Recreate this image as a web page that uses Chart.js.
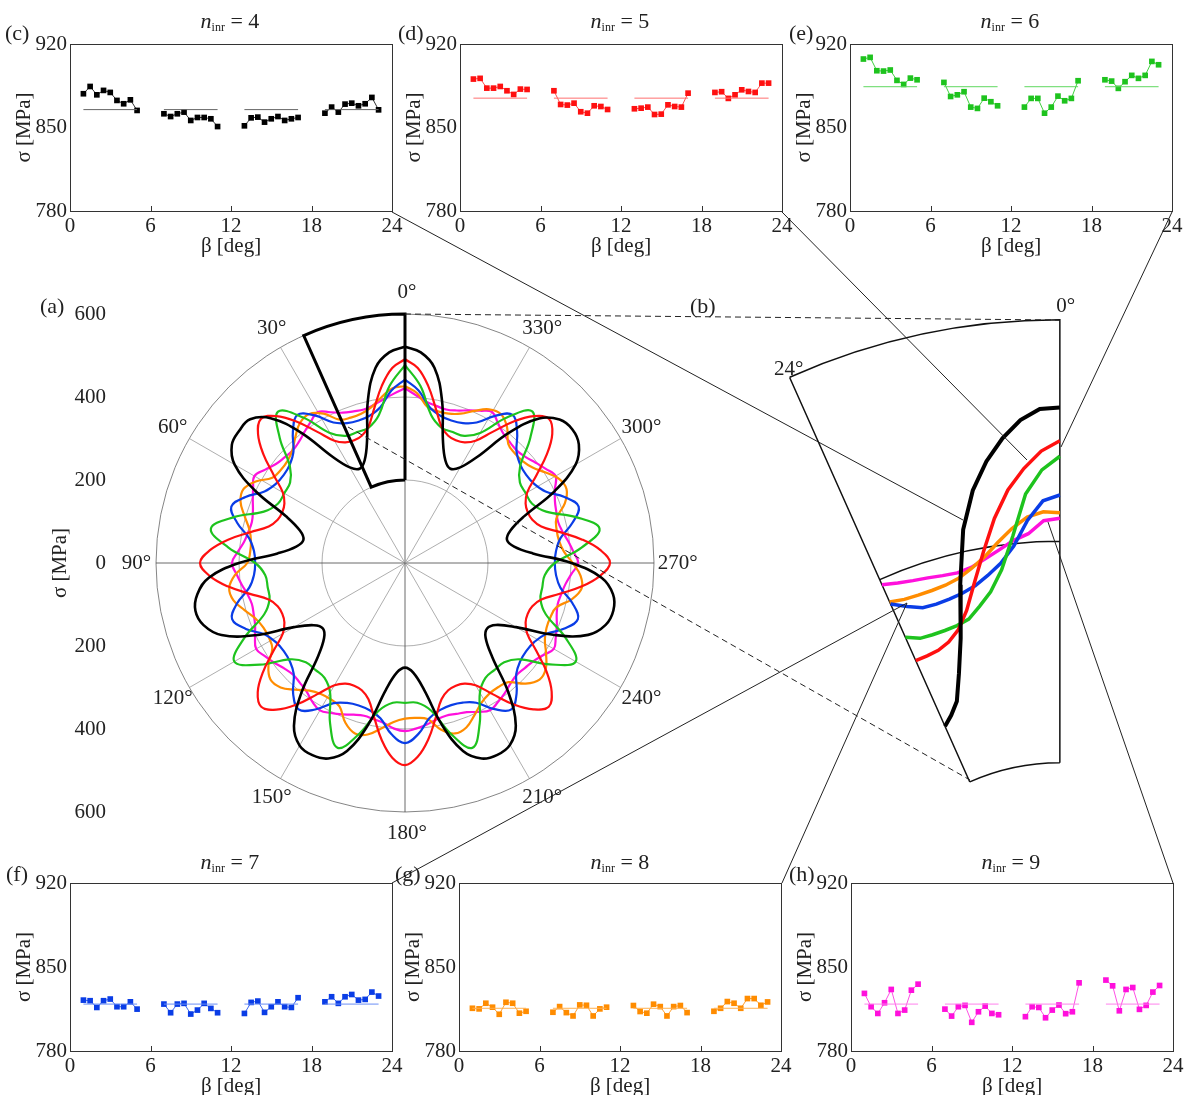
<!DOCTYPE html>
<html>
<head>
<meta charset="utf-8">
<script src="https://cdn.jsdelivr.net/npm/chart.js@4.4.1/dist/chart.umd.min.js"></script>
<style>
  html, body { margin: 0; padding: 0; background: #fff; overflow: hidden; }
  body { width: 1186px; height: 1095px; position: relative; font-family: "Liberation Serif", "Times New Roman", serif; color: #222; }
  canvas { position: absolute; }
  .lbl { position: absolute; font-size: 22px; line-height: 1; white-space: nowrap; }
  .ttl { position: absolute; font-size: 22px; line-height: 1; white-space: nowrap; transform: translateX(-50%); }
  .ttl sub { font-size: 12px; vertical-align: -3px; }
  svg { position: absolute; left: 0; top: 0; pointer-events: none; }
</style>
</head>
<body>
<canvas id="polarA" width="656" height="575" style="left:44px;top:280px"></canvas>
<canvas id="zoomB" width="330" height="510" style="left:760px;top:290px"></canvas>
<canvas id="pc" width="406" height="231" style="left:0px;top:30px"></canvas>
<canvas id="pd" width="406" height="231" style="left:390px;top:30px"></canvas>
<canvas id="pe" width="406" height="231" style="left:780px;top:30px"></canvas>
<canvas id="pf" width="406" height="232" style="left:0px;top:869px"></canvas>
<canvas id="pg" width="406" height="232" style="left:389px;top:869px"></canvas>
<canvas id="ph" width="406" height="232" style="left:781px;top:869px"></canvas>

<div class="lbl" style="left:5px;top:22px">(c)</div>
<div class="lbl" style="left:398px;top:22px">(d)</div>
<div class="lbl" style="left:789px;top:22px">(e)</div>
<div class="lbl" style="left:6px;top:863px">(f)</div>
<div class="lbl" style="left:395px;top:863px">(g)</div>
<div class="lbl" style="left:789px;top:863px">(h)</div>
<div class="lbl" style="left:40px;top:295px">(a)</div>
<div class="lbl" style="left:690px;top:295px">(b)</div>

<div class="ttl" style="left:230px;top:10px"><i>n</i><sub>inr</sub> = 4</div>
<div class="ttl" style="left:620px;top:10px"><i>n</i><sub>inr</sub> = 5</div>
<div class="ttl" style="left:1010px;top:10px"><i>n</i><sub>inr</sub> = 6</div>
<div class="ttl" style="left:230px;top:851px"><i>n</i><sub>inr</sub> = 7</div>
<div class="ttl" style="left:620px;top:851px"><i>n</i><sub>inr</sub> = 8</div>
<div class="ttl" style="left:1011px;top:851px"><i>n</i><sub>inr</sub> = 9</div>

<svg width="1186" height="1095">
  <g stroke="#222" stroke-width="1" fill="none">
    <line x1="405" y1="314" x2="1060" y2="320" stroke-dasharray="6 4"/>
    <line x1="348" y1="427" x2="970" y2="780" stroke-dasharray="6 4"/>
    <line x1="392" y1="212" x2="963" y2="520"/>
    <line x1="782" y1="212" x2="1027" y2="460"/>
    <line x1="1172" y1="212" x2="1061" y2="447"/>
    <line x1="392" y1="883" x2="907" y2="603"/>
    <line x1="782" y1="883" x2="907" y2="603"/>
    <line x1="1173" y1="883" x2="1048" y2="522"/>
  </g>
</svg>

<script>
// ---- small panels (c)-(h): stress along beta ----
var beta = [1, 1.5, 2, 2.5, 3, 3.5, 4, 4.5, 5,
  7, 7.5, 8, 8.5, 9, 9.5, 10, 10.5, 11,
  13, 13.5, 14, 14.5, 15, 15.5, 16, 16.5, 17,
  19, 19.5, 20, 20.5, 21, 21.5, 22, 22.5, 23];

var sigmaN4 = [878.3, 884.4, 877.4, 881.1, 879.4, 872.7, 869.9, 873.2, 864.3,
  861.5, 859.2, 861.5, 862.9, 855.9, 858.4, 858.4, 857.3, 850.8,
  851.4, 858.1, 858.7, 854.5, 857.3, 859.2, 855.9, 857.3, 858.4,
  862.0, 867.1, 862.9, 869.6, 870.4, 868.2, 869.9, 875.2, 864.8];
var sigmaN5 = [890.6, 891.2, 883.0, 883.0, 884.4, 880.8, 877.7, 882.2, 881.9,
  880.8, 869.3, 868.8, 870.4, 863.2, 862.0, 868.2, 867.6, 865.1,
  865.7, 866.2, 867.1, 860.9, 861.2, 869.0, 867.6, 867.1, 878.8,
  879.4, 880.0, 874.4, 877.4, 881.6, 880.2, 879.4, 887.2, 887.2];
var sigmaN6 = [907.4, 908.8, 897.6, 897.3, 898.2, 889.5, 886.1, 891.4, 890.0,
  887.8, 876.0, 877.4, 880.0, 867.1, 866.0, 874.6, 871.6, 868.2,
  867.1, 874.4, 874.4, 862.0, 867.1, 876.3, 872.4, 874.4, 889.2,
  890.0, 888.9, 882.8, 888.4, 893.7, 891.2, 893.7, 905.4, 902.6];
var sigmaN7 = [822.4, 821.9, 816.3, 821.9, 823.3, 816.9, 816.9, 821.0, 814.9,
  819.1, 811.9, 819.1, 819.7, 810.8, 814.1, 819.7, 815.5, 811.9,
  811.3, 820.5, 821.6, 812.2, 816.9, 821.0, 816.9, 816.3, 824.4,
  821.0, 825.2, 819.7, 825.2, 827.1, 822.4, 823.0, 829.1, 825.8];
var sigmaN8 = [815.6, 815.1, 819.8, 816.5, 810.6, 820.6, 819.8, 811.5, 813.1,
  812.3, 817.0, 812.0, 809.2, 818.4, 818.1, 809.2, 815.1, 816.5,
  817.9, 812.9, 811.5, 819.0, 817.0, 809.2, 817.0, 817.9, 812.0,
  813.1, 815.6, 821.2, 819.8, 815.6, 823.7, 823.7, 818.1, 820.9];
var sigmaN9 = [828.0, 816.9, 811.3, 820.2, 831.3, 811.3, 814.1, 830.7, 835.7,
  814.9, 809.1, 816.9, 818.0, 803.9, 812.7, 817.4, 811.3, 810.2,
  808.6, 816.9, 816.3, 807.7, 814.1, 818.3, 811.1, 812.7, 836.8,
  839.1, 834.3, 813.5, 831.3, 832.9, 814.7, 818.0, 829.1, 834.6];

// mean value drawn as a flat line over each group
var meanN4 = 865, meanN5 = 874.6, meanN6 = 884.2, meanN7 = 819.1, meanN8 = 815.6, meanN9 = 819.1;

var betaTicks = [0, 6, 12, 18, 24];
var sigmaTicks = [780, 850, 920];

// ---- polar plot (a): radius every (360 / length) degrees, counter-clockwise from top ----
var blackR = [
  521, 509, 476, 402, 310, 266, 252, 266, 310, 402, 476, 509,
  511, 505, 474, 400, 308, 265, 251, 265, 308, 400, 474, 506,
  518, 508, 475, 401, 309, 266, 253, 266, 309, 401, 475, 508,
  514, 506, 474, 400, 309, 265, 252, 265, 309, 400, 474, 506,
  513, 506, 474, 400, 309, 265, 253, 265, 309, 400, 474, 506,
  515, 507, 475, 401, 309, 266, 252, 266, 309, 401, 475, 507,
  516, 508, 475, 401, 310, 266, 252, 266, 310, 401, 476, 509];
var redR = [
  491, 471, 430, 380, 340, 324, 320, 324, 340, 380, 430, 471,
  491, 471, 430, 380, 340, 324, 320, 324, 340, 380, 430, 471,
  494, 472, 431, 381, 340, 324, 320, 324, 340, 381, 431, 472,
  490, 470, 430, 380, 340, 324, 320, 324, 340, 380, 430, 470,
  487, 468, 429, 380, 340, 324, 320, 324, 340, 380, 429, 469,
  490, 470, 430, 380, 340, 324, 320, 324, 340, 380, 430, 471,
  494, 472, 431, 381, 340, 324, 320, 324, 340, 381, 431, 472,
  491, 471, 430, 380, 340, 324, 320, 324, 340, 380, 430, 471];
var greenR = [
  477, 428, 362, 338, 336, 338, 362, 428,
  476, 427, 362, 338, 336, 338, 362, 427,
  475, 427, 361, 338, 336, 338, 361, 427,
  475, 427, 361, 338, 336, 338, 361, 427,
  474, 426, 361, 338, 337, 338, 361, 426,
  474, 426, 361, 338, 336, 338, 361, 426,
  475, 427, 361, 338, 336, 338, 361, 427,
  476, 427, 362, 338, 336, 338, 362, 427,
  477, 428, 362, 338, 336, 338, 362, 428];
var blueR = [
  442, 417, 380, 365, 361, 365, 380, 417,
  441, 416, 380, 365, 361, 365, 380, 416,
  440, 416, 380, 365, 361, 365, 380, 416,
  438, 415, 379, 365, 361, 365, 379, 415,
  436, 414, 379, 365, 361, 365, 379, 414,
  434, 413, 378, 364, 360, 364, 378, 413,
  436, 414, 379, 365, 361, 365, 379, 414,
  438, 415, 379, 365, 361, 365, 379, 415,
  440, 416, 380, 365, 361, 365, 380, 416,
  441, 416, 380, 365, 361, 365, 380, 417];
var orangeR = [
  426, 422, 403, 384, 375, 374, 380, 410,
  427, 422, 403, 384, 375, 374, 380, 410,
  428, 423, 403, 384, 375, 374, 380, 411,
  428, 423, 403, 384, 375, 374, 380, 411,
  429, 424, 404, 384, 375, 374, 380, 411,
  428, 423, 403, 384, 375, 374, 380, 411,
  428, 423, 403, 384, 375, 374, 380, 411,
  429, 424, 404, 384, 375, 374, 380, 411,
  430, 424, 404, 384, 375, 374, 380, 411,
  428, 423, 403, 384, 375, 374, 380, 410,
  427, 422, 403, 384, 375, 374, 380, 410];
var magentaR = [
  421, 409, 398, 388, 383, 386, 392, 405,
  420, 409, 398, 388, 383, 386, 392, 405,
  419, 408, 397, 387, 382, 385, 391, 404,
  417, 407, 397, 387, 382, 385, 391, 403,
  414, 405, 396, 386, 381, 384, 390, 402,
  410, 403, 395, 386, 381, 384, 389, 400,
  405, 400, 393, 385, 381, 384, 389, 400,
  410, 403, 395, 386, 381, 384, 389, 400,
  414, 405, 396, 386, 381, 384, 390, 402,
  417, 407, 397, 387, 382, 385, 391, 403,
  419, 408, 397, 387, 382, 385, 391, 404,
  420, 409, 398, 388, 383, 386, 392, 405];

// ---- zoomed wedge (b): 0..24 deg ----
var zoomDeg = [0, 2, 4, 6, 8, 10, 12, 14, 16, 18, 20, 22, 24];
var zoomBlack = [521, 520, 511, 496, 477, 453, 420, 372, 325, 295, 272, 262, 255];
var zoomRed = [491, 482, 467, 449, 425, 397, 371, 348, 333, 325, 321, 320, 320];
var zoomGreen = [477, 465, 444, 407, 378, 360, 349, 340, 337, 336, 336, 337, 343];
var zoomBlue = [442, 437, 420, 398, 384, 375, 368, 364, 362, 361, 362, 368, 376];
var zoomOrange = [426, 427, 423, 414, 403, 392, 384, 378, 375, 374, 374, 375, 378];
var zoomMagenta = [421, 419, 408, 403, 396, 390, 385, 383, 384, 386, 388, 391, 395];

var gridRadii = [200, 400, 600];
var spokeDeg = [0, 30, 60, 90, 120, 150, 180, 210, 240, 270, 300, 330];
var wedgeDeg = [0, 24];
var wedgeR = [200, 600];

var colBlack = "#000000", colRed = "#ff1010", colGreen = "#1ec31e",
    colBlue = "#0a3de6", colOrange = "#ff8c00", colMagenta = "#ff10dc";

Chart.defaults.font.family = '"Liberation Serif", "Times New Roman", serif';
Chart.defaults.color = "#222";
Chart.defaults.animation = false;

// polar (r, deg) -> x/y in MPa
const toXY = (r, deg) => {
  var a = deg * Math.PI / 180;
  return { x: -r * Math.sin(a), y: r * Math.cos(a) };
};

// fixed axis size, no extra padding from the end labels
const fixWidth = (w) => (s) => { s.width = w; s.paddingTop = 0; s.paddingBottom = 0; };

//frame and inner ticks for the small panels
const frame = {
  id: "frame",
  afterDatasetsDraw(chart) {
    var ctx = chart.ctx, a = chart.chartArea, x = chart.scales.x;
    ctx.save();
    ctx.strokeStyle = "#333";
    ctx.lineWidth = 1;
    ctx.strokeRect(Math.round(a.left) + 0.5, Math.round(a.top) + 0.5,
      Math.round(a.right - a.left), Math.round(a.bottom - a.top));
    ctx.beginPath();
    betaTicks.forEach(function (t) {
      var px = Math.round(x.getPixelForValue(t)) + 0.5;
      ctx.moveTo(px, a.bottom);
      ctx.lineTo(px, a.bottom - 5);
    });
    ctx.stroke();
    ctx.restore();
  },
};

const smallPanel = (id, sigma, mean, color, lineColor, refColor) => {
  var pts = [], ref = [], start = beta[0];
  beta.forEach(function (b, i) {
    if (i > 0 && b - beta[i - 1] > 1) {
      pts.push({ x: (b + beta[i - 1]) / 2, y: null });
      ref.push({ x: start, y: mean }, { x: beta[i - 1], y: mean }, { x: (b + beta[i - 1]) / 2, y: null });
      start = b;
    }
    pts.push({ x: b, y: sigma[i] });
  });
  ref.push({ x: start, y: mean }, { x: beta[beta.length - 1], y: mean });

  new Chart(document.getElementById(id), {
    type: "scatter",
    data: {
      datasets: [
        { data: ref, showLine: true, borderColor: refColor, borderWidth: 1, pointRadius: 0 },
        {
          data: pts, showLine: true, borderColor: lineColor, borderWidth: 1,
          pointStyle: "rect", pointRadius: 4, pointBackgroundColor: color, pointBorderWidth: 0,
        },
      ],
    },
    options: {
      responsive: false,
      layout: { padding: { top: 14, right: 14, left: 0, bottom: 0 } },
      plugins: { legend: { display: false }, tooltip: { enabled: false } },
      scales: {
        x: {
          type: "linear", min: 0, max: 24,
          afterFit: (s) => { s.height = 50; },
          afterBuildTicks: (s) => { s.ticks = betaTicks.map((v) => ({ value: v })); },
          grid: { display: false, drawTicks: false }, border: { display: false },
          ticks: { font: { size: 21 }, padding: 3, maxRotation: 0 },
          title: { display: true, text: "β [deg]", font: { size: 21 }, padding: { top: 0, bottom: 2 } },
        },
        y: {
          min: 780, max: 920,
          afterFit: fixWidth(70),
          afterBuildTicks: (s) => { s.ticks = sigmaTicks.map((v) => ({ value: v })); },
          grid: { display: false, drawTicks: false }, border: { display: false },
          ticks: { font: { size: 21 }, padding: 3 },
          title: { display: true, text: "σ [MPa]", font: { size: 21 }, padding: { top: 12, bottom: 0 } },
        },
      },
    },
    plugins: [frame],
  });
};

smallPanel("pc", sigmaN4, meanN4, colBlack, "#333", "#666");
smallPanel("pd", sigmaN5, meanN5, colRed, "#ff5050", "#ff7070");
smallPanel("pe", sigmaN6, meanN6, colGreen, "#40d040", "#60d860");
smallPanel("pf", sigmaN7, meanN7, colBlue, "#3a66f0", "#6a8ef5");
smallPanel("pg", sigmaN8, meanN8, colOrange, "#ffa030", "#ffb050");
smallPanel("ph", sigmaN9, meanN9, colMagenta, "#ff50e4", "#ff80ec");

/*
  polar plot (a)
*/
const polarPoints = (r) => {
  var step = 360 / r.length;
  var pts = r.map((v, i) => toXY(v, i * step));
  pts.push(pts[0]);
  return pts;
};

const pixel = (chart, r, deg) => {
  var p = toXY(r, deg);
  return { x: chart.scales.x.getPixelForValue(p.x), y: chart.scales.y.getPixelForValue(p.y) };
};

// canvas arc angle for a polar angle (ccw from top)
const arcAngle = (deg) => -(90 + deg) * Math.PI / 180;

const polarGrid = {
  id: "polarGrid",
  beforeDatasetsDraw(chart) {
    var ctx = chart.ctx;
    var c = pixel(chart, 0, 0);
    var k = chart.scales.x.getPixelForValue(100) - chart.scales.x.getPixelForValue(0);
    ctx.save();
    ctx.lineWidth = 0.8;
    gridRadii.forEach(function (r) {
      ctx.strokeStyle = r == 600 ? "#666" : "#999";
      ctx.beginPath();
      ctx.arc(c.x, c.y, r * k / 100, 0, 2 * Math.PI);
      ctx.stroke();
    });
    spokeDeg.forEach(function (a) {
      var p = pixel(chart, 600, a);
      ctx.strokeStyle = a % 90 == 0 ? "#444" : "#999";
      ctx.beginPath();
      ctx.moveTo(c.x, c.y);
      ctx.lineTo(p.x, p.y);
      ctx.stroke();
    });
    ctx.restore();
  },
  afterDatasetsDraw(chart) {
    // bold wedge marking the zoomed sector
    var ctx = chart.ctx;
    var c = pixel(chart, 0, 0);
    var k = chart.scales.x.getPixelForValue(100) - chart.scales.x.getPixelForValue(0);
    var p0 = pixel(chart, wedgeR[0], wedgeDeg[0]), p1 = pixel(chart, wedgeR[1], wedgeDeg[0]);
    var p2 = pixel(chart, wedgeR[0], wedgeDeg[1]);
    ctx.save();
    ctx.strokeStyle = "#000";
    ctx.lineWidth = 3;
    ctx.beginPath();
    ctx.moveTo(p0.x, p0.y);
    ctx.lineTo(p1.x, p1.y);
    ctx.arc(c.x, c.y, wedgeR[1] * k / 100, arcAngle(wedgeDeg[0]), arcAngle(wedgeDeg[1]), true);
    ctx.lineTo(p2.x, p2.y);
    ctx.arc(c.x, c.y, wedgeR[0] * k / 100, arcAngle(wedgeDeg[1]), arcAngle(wedgeDeg[0]), false);
    ctx.stroke();
    ctx.restore();
  },
  afterDraw(chart) {
    var ctx = chart.ctx;
    ctx.save();
    ctx.fillStyle = "#222";
    ctx.font = '21px "Liberation Serif", serif';
    ctx.textAlign = "center";
    ctx.textBaseline = "middle";
    spokeDeg.forEach(function (a) {
      var p = pixel(chart, 652, a);
      ctx.fillText(a + "°", p.x + 2, p.y);
    });
    ctx.restore();
  },
};

const curve = (data, color, width) => ({
  data: data, showLine: true, borderColor: color, borderWidth: width,
  pointRadius: 0, tension: 0.4, fill: false,
});

new Chart(document.getElementById("polarA"), {
  type: "scatter",
  data: {
    datasets: [
      curve(polarPoints(blackR), colBlack, 2.6),
      curve(polarPoints(redR), colRed, 2.2),
      curve(polarPoints(greenR), colGreen, 2.2),
      curve(polarPoints(blueR), colBlue, 2.2),
      curve(polarPoints(orangeR), colOrange, 2.2),
      curve(polarPoints(magentaR), colMagenta, 2.2),
    ],
  },
  options: {
    responsive: false,
    layout: { padding: { top: 34, right: 46, bottom: 43, left: 0 } },
    plugins: { legend: { display: false }, tooltip: { enabled: false } },
    scales: {
      x: { type: "linear", min: -600, max: 600, display: false },
      y: {
        min: -600, max: 600,
        afterFit: fixWidth(112),
        grid: { display: false, drawTicks: false }, border: { display: false },
        ticks: { stepSize: 200, padding: 50, font: { size: 21 }, callback: (v) => Math.abs(v) },
        title: { display: true, text: "σ [MPa]", font: { size: 21 }, padding: { top: 4, bottom: 0 } },
      },
    },
  },
  plugins: [polarGrid],
});

/*
  zoomed sector (b)
*/
const zoomPoints = (r) => r.map((v, i) => toXY(v, zoomDeg[i]));

const wedgeB = {
  id: "wedgeB",
  beforeDatasetsDraw(chart) {
    var ctx = chart.ctx;
    var c = pixel(chart, 0, 0);
    var k = chart.scales.x.getPixelForValue(100) - chart.scales.x.getPixelForValue(0);
    ctx.save();
    ctx.strokeStyle = "#111";
    ctx.lineWidth = 1.5;
    ctx.beginPath();
    wedgeDeg.forEach(function (a) {
      var p = pixel(chart, gridRadii[0], a), q = pixel(chart, gridRadii[2], a);
      ctx.moveTo(p.x, p.y);
      ctx.lineTo(q.x, q.y);
    });
    gridRadii.forEach(function (r) {
      var s = pixel(chart, r, wedgeDeg[0]);
      ctx.moveTo(s.x, s.y);
      ctx.arc(c.x, c.y, r * k / 100, arcAngle(wedgeDeg[0]), arcAngle(wedgeDeg[1]), true);
    });
    ctx.stroke();
    ctx.fillStyle = "#222";
    ctx.font = '21px "Liberation Serif", serif';
    ctx.textAlign = "center";
    ctx.textBaseline = "middle";
    var l0 = pixel(chart, 612, -0.5), l1 = pixel(chart, 607, 23.8);
    ctx.fillText(wedgeDeg[0] + "°", l0.x, l0.y);
    ctx.fillText(wedgeDeg[1] + "°", l1.x, l1.y);
    ctx.restore();
  },
};

const zcurve = (data, color, width) => ({
  data: data, showLine: true, borderColor: color, borderWidth: width,
  pointRadius: 0, tension: 0, fill: false,
});

new Chart(document.getElementById("zoomB"), {
  type: "scatter",
  data: {
    datasets: [
      zcurve(zoomPoints(zoomBlack), colBlack, 4),
      zcurve(zoomPoints(zoomRed), colRed, 3.5),
      zcurve(zoomPoints(zoomGreen), colGreen, 3.5),
      zcurve(zoomPoints(zoomBlue), colBlue, 3.5),
      zcurve(zoomPoints(zoomOrange), colOrange, 3.5),
      zcurve(zoomPoints(zoomMagenta), colMagenta, 3.5),
    ],
  },
  options: {
    responsive: false,
    layout: { padding: { top: 8, right: 8, bottom: 4, left: 12 } },
    plugins: { legend: { display: false }, tooltip: { enabled: false } },
    scales: {
      x: { type: "linear", min: -260, max: 20, display: false },
      y: { min: 170, max: 620, display: false },
    },
  },
  plugins: [wedgeB],
});
</script>
</body>
</html>
